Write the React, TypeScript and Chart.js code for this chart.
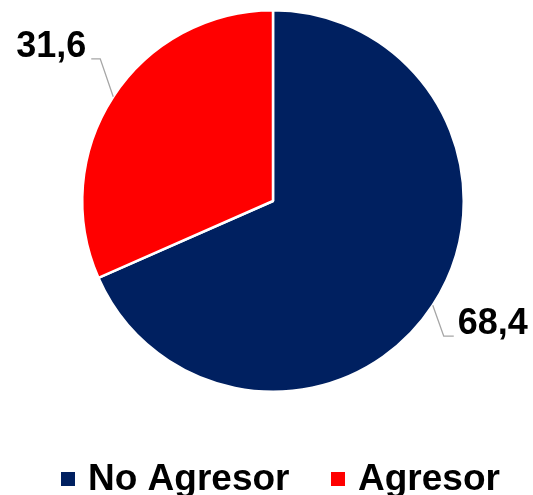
import React, { useEffect, useRef } from "react";
import { Chart, registerables } from "chart.js";

Chart.register(...registerables);

const categories: string[] = ["No Agresor", "Agresor"];
const values: number[] = [68.4, 31.6];
const valueLabels: string[] = ["68,4", "31,6"];
const colors: string[] = ["#002060", "#FF0000"];

const FONT = "'Liberation Sans', Arial, sans-serif";

const labelPlugin = {
  id: "customLabels",
  afterDatasetsDraw(chart: any) {
    const ctx = chart.ctx;
    const meta = chart.getDatasetMeta(0);
    ctx.save();
    meta.data.forEach((arc: any, i: number) => {
      const { x, y, startAngle, endAngle, outerRadius } = arc.getProps(
        ["x", "y", "startAngle", "endAngle", "outerRadius"],
        true
      );
      const mid = (startAngle + endAngle) / 2;
      const ax = x + Math.cos(mid) * outerRadius;
      const ay = y + Math.sin(mid) * outerRadius;
      const right = Math.cos(mid) >= 0;
      const down = Math.sin(mid) >= 0;
      const ex = ax + (right ? 11 : -13);
      const ey = ay + (down ? 31 : -38);
      const hx = ex + (right ? 10 : -9);
      ctx.strokeStyle = "#A6A6A6";
      ctx.lineWidth = 1.3;
      ctx.beginPath();
      ctx.moveTo(ax, ay);
      ctx.lineTo(ex, ey);
      ctx.lineTo(hx, ey);
      ctx.stroke();
      ctx.fillStyle = "#000000";
      ctx.font = `bold 36px ${FONT}`;
      ctx.textBaseline = "middle";
      ctx.textAlign = right ? "left" : "right";
      ctx.fillText(valueLabels[i], hx + (right ? 4 : -5), ey - 12);
    });
    ctx.restore();
  },
  afterDraw(chart: any) {
    const ctx = chart.ctx;
    ctx.save();
    ctx.font = `bold 37px ${FONT}`;
    ctx.textBaseline = "alphabetic";
    ctx.textAlign = "left";
    const starts = [61, 331];
    categories.forEach((c, i) => {
      const sx = starts[i];
      ctx.fillStyle = colors[i];
      ctx.fillRect(sx, 472, 14, 14);
      ctx.fillStyle = "#000000";
      ctx.fillText(c, sx + 27, 490);
    });
    ctx.restore();
  },
};

export default function App() {
  const ref = useRef<HTMLCanvasElement>(null);
  useEffect(() => {
    if (!ref.current) return;
    const chart = new Chart(ref.current, {
      type: "pie",
      data: {
        labels: categories,
        datasets: [
          {
            data: values,
            backgroundColor: colors,
            borderColor: "#FFFFFF",
            borderWidth: 2.5,
          },
        ],
      },
      options: {
        responsive: false,
        animation: false,
        layout: { padding: { left: 81, right: 68, top: 9, bottom: 102 } },
        plugins: {
          legend: { display: false },
          tooltip: { enabled: false },
        },
      },
      plugins: [labelPlugin],
    });
    return () => chart.destroy();
  }, []);
  return (
    <div style={{ position: "fixed", left: 0, top: 0, width: 533, height: 495, background: "#fff" }}>
      <canvas ref={ref} width={533} height={495} style={{ display: "block" }} />
    </div>
  );
}
